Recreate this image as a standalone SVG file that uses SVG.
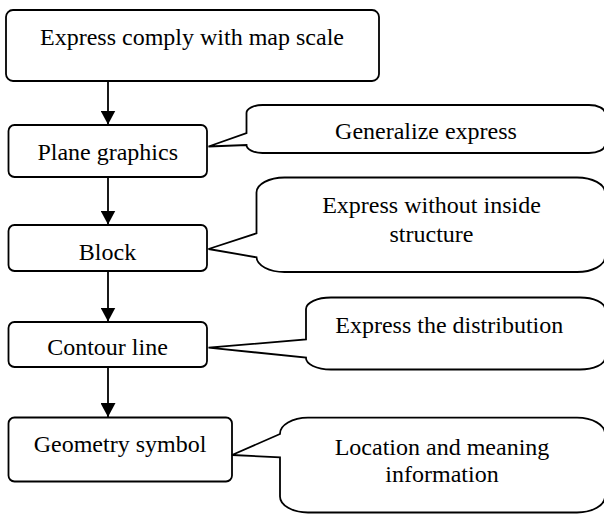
<svg xmlns="http://www.w3.org/2000/svg" width="604" height="514" viewBox="0 0 604 514" font-family="'Liberation Serif', 'Times New Roman', serif">
<defs>
<style>
.box{fill:#fff;stroke:#000;stroke-width:1.8}
.co{fill:#fff;stroke:#000;stroke-width:1.8;stroke-linejoin:miter}
.t{font-family:'Liberation Serif','Times New Roman',serif;font-size:24px;fill:#000;text-anchor:middle}
.ln{stroke:#000;stroke-width:1.8;fill:none}
</style>
<marker id="ah" markerUnits="userSpaceOnUse" markerWidth="15" markerHeight="15" refX="14" refY="7.5" orient="auto">
<path d="M0,0 L14,7.5 L0,15 Z" fill="#000"/>
</marker>
</defs>
<rect width="604" height="514" fill="#fff"/>
<g id="connectors">
<line class="ln" x1="108" y1="81" x2="108" y2="124.5" marker-end="url(#ah)"/>
<line class="ln" x1="108" y1="177" x2="108" y2="224.5" marker-end="url(#ah)"/>
<line class="ln" x1="108" y1="271" x2="108" y2="321.5" marker-end="url(#ah)"/>
<line class="ln" x1="108" y1="367" x2="108" y2="417" marker-end="url(#ah)"/>
</g>
<g id="n1">
<rect class="box" x="6" y="10" width="373" height="71" rx="7"/>
<text class="t" x="192" y="45">Express comply with map scale</text>
</g>
<g id="n2">
<rect class="box" x="8.5" y="125" width="198.5" height="52" rx="6"/>
<text class="t" x="107.7" y="160">Plane graphics</text>
</g>
<g id="n3">
<rect class="box" x="8.5" y="225" width="198.5" height="46" rx="6"/>
<text class="t" x="107.5" y="260">Block</text>
</g>
<g id="n4">
<rect class="box" x="8.5" y="322" width="198.5" height="45" rx="6"/>
<text class="t" x="107.5" y="355">Contour line</text>
</g>
<g id="n5">
<rect class="box" x="8.5" y="417.5" width="223.5" height="64" rx="6"/>
<text class="t" x="120" y="451.7">Geometry symbol</text>
</g>
<g id="c1">
<path class="co" d="M262.5,105 H589 A16,8 0 0 1 605,113 V145 A16,8 0 0 1 589,153 H262.5 A16,8 0 0 1 246.5,145 L208.5,146.5 L246.5,133 V113 A16,8 0 0 1 262.5,105 Z"/>
<text class="t" x="426" y="139">Generalize express</text>
</g>
<g id="c2">
<path class="co" d="M284.5,177.5 H577 A28,15 0 0 1 605,192.5 V257 A28,15 0 0 1 577,272 H284.5 A28,15 0 0 1 256.5,257.3 L208.5,249 L256.5,233.3 V192.5 A28,15 0 0 1 284.5,177.5 Z"/>
<text class="t" x="431.5" y="213.3">Express without inside</text>
<text class="t" x="431.5" y="241.7">structure</text>
</g>
<g id="c3">
<path class="co" d="M331,297.5 H580 A25,11.5 0 0 1 605,309 V358 A25,11.5 0 0 1 580,369.5 H331 A25,11.5 0 0 1 306,357.5 L208.5,347.7 L306,339.3 V309 A25,11.5 0 0 1 331,297.5 Z"/>
<text class="t" x="449.3" y="333.3">Express the distribution</text>
</g>
<g id="c4">
<path class="co" d="M308,417.7 H577 A28,16 0 0 1 605,433.7 V496.5 A28,16 0 0 1 577,512.5 H308 A28,16 0 0 1 280,496.5 V457.3 L232,455 L280,434 A28,16 0 0 1 308,417.7 Z"/>
<text class="t" x="442" y="455">Location and meaning</text>
<text class="t" x="442" y="481.7">information</text>
</g>
</svg>
